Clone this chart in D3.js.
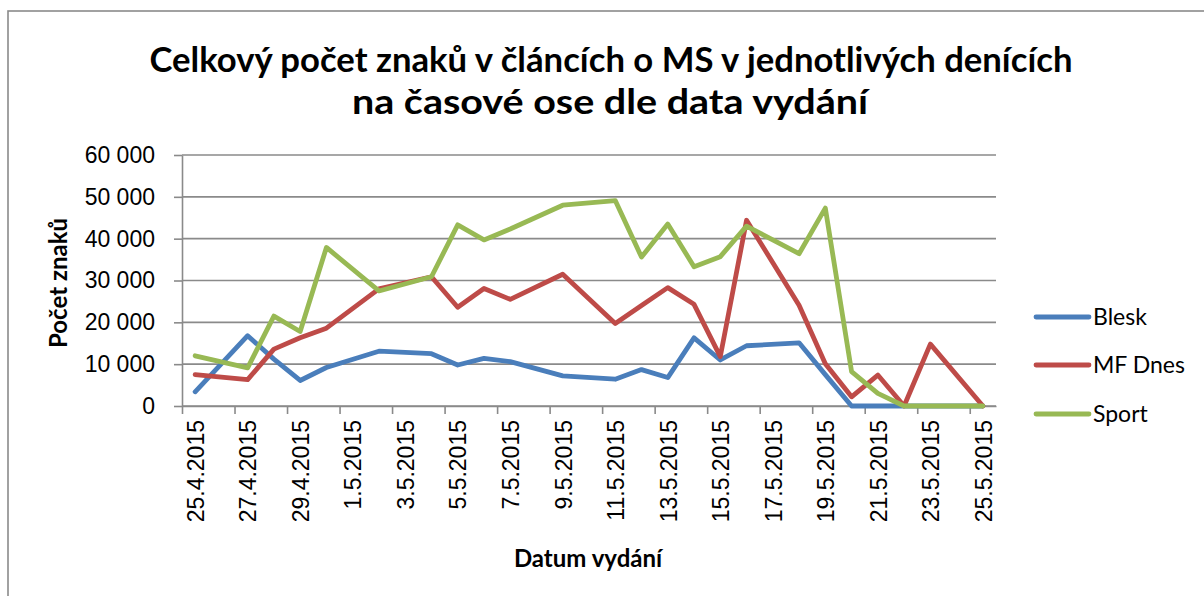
<!DOCTYPE html>
<html>
<head>
<meta charset="utf-8">
<script src="https://cdn.jsdelivr.net/npm/d3@7"></script>
<style>
  body { margin: 0; background: #fff; }
  svg { display: block; font-family: Lato, "Noto Sans", sans-serif; }
  .grid line { stroke: #8a8a8a; stroke-width: 1.6; }
  .axis path, .axis line { stroke: #8a8a8a; stroke-width: 1.6; }
  .series { fill: none; stroke-width: 4.8; stroke-linejoin: round; stroke-linecap: round; }
</style>
</head>
<body>
<div class="chart-holder"></div>
<script>
// dates of issue (Sundays and holidays are missing)
var dates = ["25.4.2015", "27.4.2015", "28.4.2015", "29.4.2015", "30.4.2015", "2.5.2015",
  "4.5.2015", "5.5.2015", "6.5.2015", "7.5.2015", "9.5.2015", "11.5.2015", "12.5.2015",
  "13.5.2015", "14.5.2015", "15.5.2015", "16.5.2015", "18.5.2015", "19.5.2015", "20.5.2015",
  "21.5.2015", "22.5.2015", "23.5.2015", "25.5.2015"];

var blesk = [3400, 16800, 11200, 6100, 9200, 13100, 12500, 9800, 11400, 10600, 7200, 6400,
  8700, 6800, 16300, 11000, 14400, 15100, 7500, 0, 0, 0, 0, 0];
var mfDnes = [7500, 6300, 13600, 16300, 18600, 28000, 30900, 23600, 28100, 25500, 31500, 19700,
  24000, 28300, 24300, 11800, 44400, 24100, 10100, 2200, 7400, 0, 14800, 0];
var sport = [12000, 9100, 21500, 17800, 37900, 27500, 30900, 43300, 39700, 42300, 48000, 49100,
  35600, 43500, 33300, 35700, 43000, 36400, 47300, 8200, 3000, 0, 0, 0];

var seriesNames = ["Blesk", "MF Dnes", "Sport"];
var seriesColors = ["#4A7EBB", "#BE4B48", "#98B954"];
var yTicks = [0, 10000, 20000, 30000, 40000, 50000, 60000];

var width = 1204, height = 596;
var plot = {left: 182, right: 996, top: 155, bottom: 406};

var parse = d3.utcParse("%d.%m.%Y");
var fmtDate = d3.utcFormat("%-d.%-m.%Y");
var fmtNum = d3.formatLocale({decimal: ",", thousands: " ", grouping: [3], currency: ["", ""]}).format(",d");
var days = dates.map(parse);
var halfDay = 12 * 3600 * 1000;

var svg = d3.select(".chart-holder")
  .append("svg")
  .attr("width", width)
  .attr("height", height);

svg.append("rect").attr("width", width).attr("height", height).attr("fill", "#fff");
// chart frame (runs off the right and bottom of the picture)
svg.append("rect")
  .attr("x", 8).attr("y", 11)
  .attr("width", 1400).attr("height", 800)
  .attr("fill", "none").attr("stroke", "#8a8a8a").attr("stroke-width", 1.6);

var x = d3.scaleUtc()
  .domain([new Date(days[0].getTime() - halfDay), new Date(days[days.length - 1].getTime() + halfDay)])
  .range([plot.left, plot.right]);
var y = d3.scaleLinear().domain([0, 60000]).range([plot.bottom, plot.top]);

// horizontal gridlines
svg.append("g").attr("class", "grid")
  .selectAll("line")
  .data(yTicks)
  .enter().append("line")
  .attr("x1", plot.left).attr("x2", plot.right)
  .attr("y1", function(d) { return y(d); })
  .attr("y2", function(d) { return y(d); });

// y axis
var yAxis = svg.append("g").attr("class", "axis")
  .attr("transform", "translate(" + plot.left + ",0)")
  .call(d3.axisLeft(y).tickValues(yTicks).tickSize(8).tickPadding(19).tickFormat(fmtNum).tickSizeOuter(0));
yAxis.selectAll("text").style("font-size", "23px").attr("fill", "#000");

// x axis: tick marks between days, labels every second day
var labelDays = d3.utcDay.range(days[0], new Date(days[days.length - 1].getTime() + 1), 2);
var tickMarks = labelDays.map(function(d) { return new Date(d.getTime() - halfDay); });
svg.append("g").attr("class", "axis")
  .attr("transform", "translate(0," + plot.bottom + ")")
  .call(d3.axisBottom(x).tickValues(tickMarks).tickSize(8).tickFormat("").tickSizeOuter(0));
var xLabels = svg.append("g").attr("class", "axis xlabels")
  .attr("transform", "translate(0," + plot.bottom + ")")
  .call(d3.axisBottom(x).tickValues(labelDays).tickSize(0).tickFormat(fmtDate));
xLabels.select(".domain").remove();
xLabels.selectAll("text")
  .style("font-size", "23px")
  .attr("fill", "#000")
  .attr("transform", "rotate(-90)")
  .attr("text-anchor", "end")
  .attr("x", -14)
  .attr("y", 0)
  .attr("dy", "0.36em");

// lines
var line = d3.line()
  .x(function(d, i) { return x(days[i]); })
  .y(function(d) { return y(d); });
var allSeries = [blesk, mfDnes, sport];
svg.append("g")
  .selectAll("path")
  .data(allSeries)
  .enter().append("path")
  .attr("class", "series")
  .attr("stroke", function(d, i) { return seriesColors[i]; })
  .attr("d", line);

// fit text to a width measured on the picture
function fit(sel, w) {
  var len = sel.node().getComputedTextLength();
  if (Math.abs(len - w) > 2) sel.attr("textLength", w).attr("lengthAdjust", "spacingAndGlyphs");
}

// titles
var t1 = svg.append("text").attr("x", 611).attr("y", 72).attr("text-anchor", "middle")
  .style("font-size", "34px").style("font-weight", 700)
  .text("Celkový počet znaků v článcích o MS v jednotlivých denících");
fit(t1, 923);
var t2 = svg.append("text").attr("x", 610).attr("y", 114).attr("text-anchor", "middle")
  .style("font-size", "34px").style("font-weight", 700)
  .text("na časové ose dle data vydání");
fit(t2, 516);

var xt = svg.append("text").attr("x", 588).attr("y", 567).attr("text-anchor", "middle")
  .style("font-size", "24px").style("font-weight", 700)
  .text("Datum vydání");
fit(xt, 150);

var yt = svg.append("text")
  .attr("transform", "translate(67,283) rotate(-90)")
  .attr("text-anchor", "middle")
  .style("font-size", "24px").style("font-weight", 700)
  .text("Počet znaků");
fit(yt, 130);

// legend
var legend = svg.append("g").attr("class", "legend");
var legendY = [317, 365, 414];
seriesNames.forEach(function(name, i) {
  legend.append("line")
    .attr("x1", 1036).attr("x2", 1089)
    .attr("y1", legendY[i]).attr("y2", legendY[i])
    .attr("stroke", seriesColors[i]).attr("stroke-width", 4.8).attr("stroke-linecap", "round");
  legend.append("text")
    .attr("x", 1093).attr("y", legendY[i]).attr("dy", "0.36em")
    .style("font-size", "23px")
    .text(name);
});
</script>
</body>
</html>
